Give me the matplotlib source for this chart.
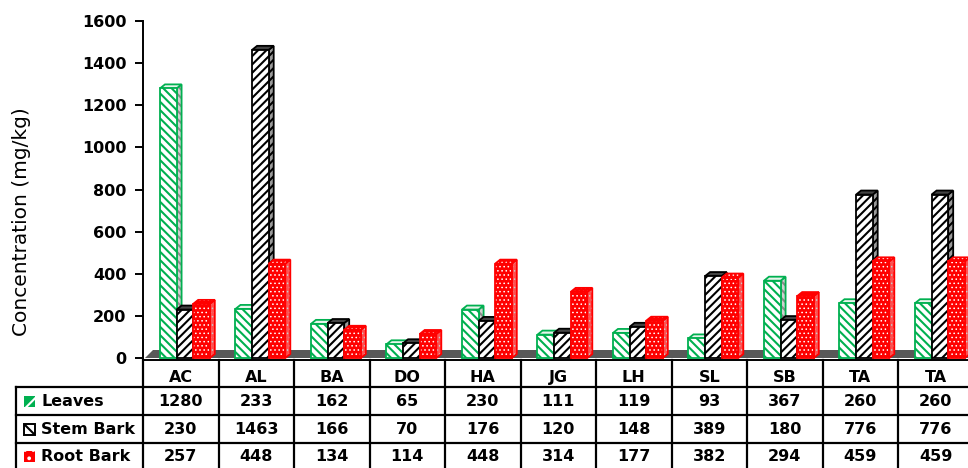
"""Concentration by plant part, 3D-style clustered bars with a data table."""

import matplotlib.pyplot as plt
from matplotlib.patches import Polygon, Rectangle

categories = ["AC", "AL", "BA", "DO", "HA", "JG", "LH", "SL", "SB", "TA", "TA"]
series_names = ["Leaves", "Stem Bark", "Root Bark"]
leaves = [1280, 233, 162, 65, 230, 111, 119, 93, 367, 260, 260]
stem_bark = [230, 1463, 166, 70, 176, 120, 148, 389, 180, 776, 776]
root_bark = [257, 448, 134, 114, 448, 314, 177, 382, 294, 459, 459]
y_ticks = [0, 200, 400, 600, 800, 1000, 1200, 1400, 1600]

GREEN = "#00b050"
RED = "#ff0000"
FLOOR = "#585858"

# front face, side face, top face styles for each series
STYLES = [
    dict(front=("white", GREEN, "\\\\\\\\"), side=("#d0d0d0", "#8a8a8a", "\\\\\\\\"),
         top=("#e8f5ec", GREEN, None), outline=GREEN),
    dict(front=("white", "black", "////"), side=("#9a9a9a", "black", "////"),
         top=("#444444", "black", None), outline="black"),
    dict(front=(RED, "white", "...."), side=("#ff5050", "#c8c8c8", "...."),
         top=(RED, "white", "...."), outline=RED),
]

FIG_W, FIG_H = 968, 468
X_LEFT, X_RIGHT = 143, 968
CAT_PX = 75.5
Y_TOP, Y_AXIS = 21, 359.5
ROW_PX = 27.8

BAR_W = 0.22
BAR_OFF = 0.225
DX, DY = 0.066, 19

FONT = "DejaVu Sans"
BOLD = dict(family=FONT, fontweight="bold", fontsize=11.5)


def add_patch(ax, pts, face, hatch_color, hatch, outline, z, hatch_lw):
    """Fill a face with a hatch, then stroke its outline."""
    body = Polygon(pts, closed=True, facecolor=face, edgecolor=hatch_color,
                   hatch=hatch, linewidth=0, zorder=z)
    if hasattr(body, "set_hatch_linewidth"):
        body.set_hatch_linewidth(hatch_lw)
    ax.add_patch(body)
    ax.add_patch(Polygon(pts, closed=True, fill=False, edgecolor=outline,
                         linewidth=1.3, zorder=z + 0.01))


def draw_bar(ax, x0, value, style, z):
    w = BAR_W
    side = [(x0 + w, 0), (x0 + w + DX, DY), (x0 + w + DX, value + DY), (x0 + w, value)]
    top = [(x0, value), (x0 + DX, value + DY), (x0 + w + DX, value + DY), (x0 + w, value)]
    front = [(x0, 0), (x0 + w, 0), (x0 + w, value), (x0, value)]
    hlw = 0.6 if style["outline"] == RED else 1.5
    add_patch(ax, side, *style["side"], style["outline"], z, hlw)
    add_patch(ax, top, *style["top"], style["outline"], z + 0.1, 0.6)
    add_patch(ax, front, *style["front"], style["outline"], z + 0.2, hlw)


def main():
    plt.rcParams["hatch.linewidth"] = 1.5
    fig = plt.figure(figsize=(FIG_W / 100, FIG_H / 100), dpi=100)

    n_vis = (X_RIGHT - X_LEFT) / CAT_PX
    ax = fig.add_axes([X_LEFT / FIG_W, 1 - Y_AXIS / FIG_H,
                       (X_RIGHT - X_LEFT) / FIG_W, (Y_AXIS - Y_TOP) / FIG_H])
    unit_px = (358 - Y_TOP) / 1600
    ax.set_ylim(-(Y_AXIS - 358) / unit_px, 1600)
    ax.set_xlim(0, n_vis)

    # floor of the 3D plot area
    ax.add_patch(Polygon([(0.026, 0), (n_vis + 1, 0), (n_vis + 1, 36), (0.13, 36)],
                         closed=True, facecolor=FLOOR, edgecolor="none", zorder=1))

    data = [leaves, stem_bark, root_bark]
    z = 2
    for i in range(len(categories)):
        for k, values in enumerate(data):
            draw_bar(ax, i + BAR_OFF + k * BAR_W, values[i], STYLES[k], z)
            z += 1

    for side in ["top", "right"]:
        ax.spines[side].set_visible(False)
    ax.spines["left"].set_linewidth(1.4)
    ax.spines["bottom"].set_linewidth(1.4)
    ax.set_xticks([])
    ax.set_yticks(y_ticks)
    ax.set_yticklabels([str(t) for t in y_ticks], **BOLD)
    ax.tick_params(axis="y", length=6, width=1.4, pad=6)

    fig.text(22 / FIG_W, 1 - 222 / FIG_H, "Concentration (mg/kg)", rotation=90,
             ha="center", va="center", family=FONT, fontsize=14.5)

    # data table under the plot
    tab_h = FIG_H - Y_AXIS
    tax = fig.add_axes([X_LEFT / FIG_W, 0, (X_RIGHT - X_LEFT) / FIG_W, tab_h / FIG_H])
    tax.set_xlim(0, n_vis)
    tax.set_ylim(tab_h / ROW_PX, 0)
    tax.axis("off")

    label_left = (16 - X_LEFT) / CAT_PX
    for i in range(len(categories) + 1):
        tax.plot([i, i], [0, 5], color="black", lw=1.6, clip_on=False)
    tax.plot([label_left, label_left], [1, 5], color="black", lw=1.6, clip_on=False)
    for r in [1, 2, 3]:
        tax.plot([label_left, n_vis + 1], [r, r], color="black", lw=1.6, clip_on=False)

    for i, name in enumerate(categories):
        tax.text(i + 0.5, 0.66, name, ha="center", va="center", **BOLD)
        for k, values in enumerate(data):
            tax.text(i + 0.5, k + 1.5, str(values[i]), ha="center", va="center", **BOLD)

    key_w = 11 / CAT_PX
    key_h = 11 / ROW_PX
    keys = [(GREEN, "white", "//", "none"), ("white", "black", "\\\\", "black"),
            (RED, "white", "..", "none")]
    for k, name in enumerate(series_names):
        yc = k + 1.5
        face, hcol, hatch, edge = keys[k]
        key = Rectangle((label_left + 8 / CAT_PX, yc - key_h / 2), key_w, key_h,
                        facecolor=face, edgecolor=hcol, hatch=hatch, lw=0,
                        clip_on=False, zorder=3)
        tax.add_patch(key)
        if edge != "none":
            tax.add_patch(Rectangle((label_left + 8 / CAT_PX, yc - key_h / 2), key_w,
                                    key_h, fill=False, edgecolor=edge, lw=1.4,
                                    clip_on=False, zorder=4))
        tax.text(label_left + 25 / CAT_PX, yc, name, ha="left", va="center",
                 clip_on=False, **BOLD)

    fig.savefig("out.png", dpi=100)


if __name__ == "__main__":
    main()
